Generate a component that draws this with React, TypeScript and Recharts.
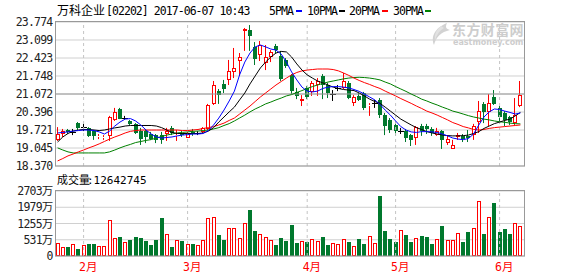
import { Bar, CartesianGrid, ComposedChart, Line, ReferenceLine, XAxis, YAxis } from 'recharts';

// trading days, 2017-01-23 .. 2017-06-07
const dates = [
  '01-23', '01-24', '01-25', '01-26', '01-27',
  '02-01', '02-02', '02-03', '02-06', '02-07', '02-08', '02-09', '02-10', '02-13', '02-14',
  '02-15', '02-16', '02-17', '02-20', '02-21', '02-22', '02-23', '02-24', '02-27', '02-28',
  '03-01', '03-02', '03-03', '03-06', '03-07', '03-08', '03-09', '03-10', '03-13', '03-14', '03-15', '03-16',
  '03-17', '03-20', '03-21', '03-22', '03-23', '03-24', '03-27', '03-28', '03-29', '03-30', '03-31',
  '04-03', '04-05', '04-06', '04-07', '04-10', '04-11', '04-12', '04-13', '04-18', '04-19', '04-20',
  '04-21', '04-24', '04-25', '04-26', '04-27', '04-28',
  '05-02', '05-04', '05-05', '05-08', '05-09', '05-10', '05-11', '05-12', '05-15', '05-16',
  '05-17', '05-18', '05-19', '05-22', '05-23', '05-24', '05-25', '05-26', '05-29', '05-31',
  '06-01', '06-02', '06-05', '06-06', '06-07',
];

const opens = [
  19.33, 19.57, 19.72, 19.65, 19.98, 19.83, 19.80, 19.68, 19.46, 19.42,
  19.50, 20.10, 20.51, 20.17, 20.06, 19.95, 19.68, 19.68, 19.57, 19.53,
  19.53, 19.57, 19.80, 19.50, 19.61, 19.42, 19.65, 19.61, 19.65, 19.76,
  20.70, 21.18, 21.45, 21.60, 21.90, 22.31, 23.44, 23.47, 22.84, 22.54,
  22.24, 22.46, 22.87, 22.50, 22.35, 21.79, 21.15, 20.81, 21.30, 21.15,
  21.41, 21.75, 21.41, 21.07, 21.30, 21.30, 21.49, 20.73, 21.00, 21.11,
  20.62, 20.73, 20.85, 20.28, 20.10, 19.91, 19.68, 19.68, 19.53, 19.42,
  19.87, 19.87, 19.76, 19.53, 19.68, 19.23, 19.01, 19.46, 19.50, 19.50,
  19.53, 20.02, 20.70, 20.40, 20.96, 20.55, 20.36, 20.21, 19.98, 20.62,
];
const highs = [
  19.83, 19.76, 19.76, 19.76, 20.02, 19.95, 19.83, 19.72, 19.57, 19.53,
  20.25, 20.55, 20.55, 20.25, 20.10, 19.98, 19.80, 19.76, 19.65, 19.57,
  19.65, 19.80, 19.87, 19.72, 19.68, 19.65, 19.76, 19.68, 19.83, 20.70,
  21.56, 21.26, 21.60, 22.35, 22.80, 22.61, 23.55, 23.66, 23.02, 23.06,
  22.91, 22.72, 22.95, 22.69, 22.42, 21.82, 21.30, 21.03, 21.37, 21.56,
  21.67, 21.82, 21.49, 21.22, 21.41, 21.86, 21.56, 21.03, 21.11, 21.15,
  20.73, 20.85, 20.92, 20.36, 20.17, 20.06, 19.80, 19.76, 19.57, 19.87,
  19.95, 19.95, 19.83, 19.80, 19.72, 19.53, 19.35, 19.61, 19.57, 19.72,
  19.95, 20.81, 20.77, 21.07, 21.22, 20.62, 20.43, 20.25, 20.92, 21.56,
];
const lows = [
  19.31, 19.46, 19.57, 19.53, 19.72, 19.68, 19.46, 19.35, 19.38, 19.35,
  19.31, 20.06, 20.13, 20.10, 19.91, 19.57, 19.16, 19.23, 19.35, 19.23,
  19.20, 19.31, 19.53, 19.31, 19.46, 19.42, 19.50, 19.53, 19.61, 19.72,
  20.66, 20.70, 21.11, 21.41, 21.67, 21.75, 22.69, 22.69, 22.16, 22.31,
  21.97, 22.27, 22.61, 21.56, 22.05, 21.07, 20.88, 20.62, 20.88, 21.00,
  21.00, 20.88, 20.92, 20.81, 21.18, 21.26, 20.88, 20.62, 20.81, 20.47,
  20.25, 20.55, 20.17, 19.53, 19.61, 19.50, 19.57, 19.27, 19.12, 19.16,
  19.50, 19.57, 19.50, 19.50, 19.01, 19.16, 19.01, 19.35, 19.27, 19.27,
  19.35, 19.61, 19.98, 19.87, 20.66, 20.06, 19.87, 19.91, 19.91, 20.58,
];
const closes = [
  19.57, 19.68, 19.65, 19.65, 19.80, 19.83, 19.50, 19.50, 19.50, 19.46,
  20.21, 20.40, 20.13, 20.17, 19.95, 19.61, 19.38, 19.46, 19.38, 19.35,
  19.35, 19.68, 19.61, 19.53, 19.53, 19.61, 19.57, 19.61, 19.80, 20.66,
  21.41, 21.03, 21.26, 21.94, 22.05, 22.46, 23.51, 23.25, 22.39, 22.91,
  22.46, 22.65, 22.72, 21.64, 22.12, 21.18, 21.00, 20.88, 20.96, 21.49,
  21.56, 21.41, 21.11, 21.07, 21.30, 21.56, 20.92, 20.96, 20.85, 20.55,
  20.66, 20.73, 20.28, 19.87, 19.72, 19.68, 19.68, 19.42, 19.35, 19.83,
  19.68, 19.76, 19.61, 19.68, 19.35, 19.38, 19.16, 19.53, 19.38, 19.42,
  19.87, 20.43, 20.40, 20.73, 20.70, 20.21, 20.10, 20.02, 20.28, 21.03,
];

// volume, 万股
const volumes = [
  541, 374, 374, 485, 305, 443, 513, 513, 416, 416,
  1497, 735, 790, 582, 665, 790, 748, 624, 457, 665,
  1580, 901, 374, 665, 624, 485, 499, 457, 665, 1580,
  1622, 873, 665, 1164, 1164, 748, 1372, 1913, 1040, 915,
  790, 665, 457, 748, 624, 1289, 541, 624, 582, 707,
  624, 790, 457, 541, 499, 707, 582, 416, 707, 499,
  832, 541, 2495, 1040, 707, 582, 1081, 873, 582, 748,
  832, 790, 499, 707, 1247, 665, 665, 956, 582, 998,
  1164, 2287, 915, 1622, 2204, 998, 1123, 915, 1372, 1264,
];

const ma5 = [
  19.61, 19.63, 19.65, 19.68, 19.70, 19.72, 19.72, 19.70, 19.65, 19.57,
  19.68, 19.87, 20.02, 20.13, 20.15, 20.06, 19.91, 19.72, 19.57, 19.46,
  19.42, 19.44, 19.46, 19.50, 19.53, 19.55, 19.57, 19.57, 19.59, 19.70,
  19.91, 20.17, 20.47, 20.81, 21.18, 21.79, 22.27, 22.61, 22.84, 22.91,
  22.84, 22.76, 22.72, 22.57, 22.27, 21.90, 21.60, 21.33, 21.18, 21.15,
  21.18, 21.28, 21.33, 21.35, 21.35, 21.33, 21.30, 21.24, 21.17, 21.07,
  20.96, 20.85, 20.68, 20.47, 20.28, 20.06, 19.85, 19.72, 19.65, 19.63,
  19.66, 19.66, 19.65, 19.63, 19.57, 19.50, 19.42, 19.38, 19.36, 19.40,
  19.57, 19.91, 20.21, 20.40, 20.51, 20.49, 20.43, 20.38, 20.32, 20.36,
];
const ma10 = [
  19.27, 19.46, 19.59, 19.68, 19.72, 19.74, 19.74, 19.72, 19.70, 19.72,
  19.76, 19.80, 19.83, 19.87, 19.89, 19.89, 19.89, 19.89, 19.89, 19.87,
  19.81, 19.72, 19.63, 19.59, 19.59, 19.59, 19.59, 19.59, 19.61, 19.68,
  19.81, 20.02, 20.21, 20.40, 20.58, 20.85, 21.11, 21.45, 21.75, 22.05,
  22.27, 22.46, 22.61, 22.67, 22.65, 22.46, 22.20, 21.97, 21.79, 21.67,
  21.56, 21.49, 21.41, 21.33, 21.28, 21.24, 21.22, 21.20, 21.11, 21.00,
  20.88, 20.79, 20.72, 20.58, 20.43, 20.28, 20.13, 20.02, 19.91, 19.81,
  19.74, 19.66, 19.61, 19.57, 19.53, 19.51, 19.50, 19.50, 19.51, 19.53,
  19.59, 19.66, 19.78, 19.87, 19.96, 20.02, 20.08, 20.13, 20.25, 20.38,
];
const ma20 = [
  18.56, 18.65, 18.75, 18.82, 18.90, 18.97, 19.05, 19.12, 19.20, 19.29,
  19.38, 19.46, 19.53, 19.61, 19.67, 19.70, 19.72, 19.72, 19.72, 19.72,
  19.72, 19.72, 19.72, 19.72, 19.70, 19.70, 19.72, 19.74, 19.78, 19.81,
  19.85, 19.91, 19.98, 20.08, 20.17, 20.32, 20.47, 20.62, 20.79, 20.96,
  21.11, 21.26, 21.41, 21.54, 21.67, 21.79, 21.88, 21.94, 21.97, 21.99,
  22.01, 22.01, 22.01, 21.99, 21.94, 21.86, 21.77, 21.67, 21.58, 21.50,
  21.43, 21.35, 21.28, 21.18, 21.09, 21.00, 20.90, 20.81, 20.72, 20.62,
  20.53, 20.43, 20.36, 20.28, 20.19, 20.10, 20.00, 19.93, 19.85, 19.80,
  19.74, 19.72, 19.74, 19.78, 19.81, 19.83, 19.85, 19.87, 19.89, 19.91,
];
const ma30 = [
  19.05, 18.97, 18.90, 18.86, 18.86, 18.86, 18.86, 18.86, 18.86, 18.86,
  18.90, 18.97, 19.05, 19.12, 19.18, 19.25, 19.29, 19.33, 19.36, 19.42,
  19.48, 19.53, 19.57, 19.61, 19.63, 19.65, 19.67, 19.68, 19.70, 19.72,
  19.76, 19.81, 19.89, 19.96, 20.06, 20.17, 20.28, 20.40, 20.51, 20.60,
  20.70, 20.77, 20.85, 20.92, 21.00, 21.05, 21.13, 21.20, 21.28, 21.35,
  21.41, 21.47, 21.52, 21.56, 21.60, 21.64, 21.67, 21.69, 21.70, 21.69,
  21.67, 21.64, 21.60, 21.52, 21.45, 21.35, 21.26, 21.17, 21.07, 20.98,
  20.88, 20.81, 20.73, 20.66, 20.58, 20.51, 20.43, 20.38, 20.32, 20.26,
  20.21, 20.17, 20.13, 20.10, 20.06, 20.03, 20.01, 19.98, 19.96, 19.95,
];

const priceTicks = [18.37, 19.045, 19.721, 20.396, 21.072, 21.748, 22.423, 23.099, 23.774];
const volTicks = [0, 675.75, 1351.5, 2027.25, 2703];
const volTickLabels = ['0', '531万', '1255万', '1979万', '2703万'];
const monthTicks = ['02-01', '03-01', '04-03', '05-02', '06-01'];
const monthLabels = ['2月', '3月', '4月', '5月', '6月'];

const UP = '#ff0000';
const DOWN = '#00782d';
const MONO = "'DejaVu Sans Mono', 'Noto Sans CJK SC', monospace";
const CJK = "'Noto Sans CJK SC', sans-serif";

const rows = dates.map((date, i) => ({
  date,
  open: opens[i],
  high: highs[i],
  low: lows[i],
  close: closes[i],
  range: [lows[i], highs[i]],
  vol: volumes[i],
  ma5: ma5[i],
  ma10: ma10[i],
  ma20: ma20[i],
  ma30: ma30[i],
}));

function Candle(props: any) {
  const { x, y, height, payload } = props;
  if (x == null || y == null) return null;
  const { open, close, high, low } = payload;
  const top = Math.min(y, y + height);
  const bottom = Math.max(y, y + height);
  const span = high - low;
  const toY = (v: number) => (span === 0 ? top : top + ((high - v) / span) * (bottom - top));
  const left = Math.floor(x);
  const wx = left + 1.5;
  const yo = toY(open);
  const yc = toY(close);
  if (open === close) {
    const yy = Math.round(yo) + 0.5;
    return (
      <g>
        <line x1={wx} x2={wx} y1={top} y2={bottom} stroke='#000' />
        <line x1={left - 1} x2={left + 5} y1={yy} y2={yy} stroke='#000' />
      </g>
    );
  }
  const bt = Math.round(Math.min(yo, yc));
  const bb = Math.round(Math.max(yo, yc));
  if (close > open) {
    return (
      <g>
        <line x1={wx} x2={wx} y1={top} y2={bt} stroke={UP} />
        <line x1={wx} x2={wx} y1={bb} y2={bottom} stroke={UP} />
        <rect x={left + 0.5} y={bt + 0.5} width={3} height={Math.max(bb - bt - 1, 0)} fill='#fff' stroke={UP} />
      </g>
    );
  }
  return (
    <g>
      <line x1={wx} x2={wx} y1={top} y2={bottom} stroke={DOWN} />
      <rect x={left} y={bt} width={4} height={Math.max(bb - bt, 1)} fill={DOWN} />
    </g>
  );
}

function VolBar(props: any) {
  const { x, y, height, payload } = props;
  if (x == null || y == null) return null;
  const left = Math.floor(x);
  const top = Math.round(y);
  const bottom = Math.round(y + height);
  if (payload.close >= payload.open) {
    return <rect x={left + 0.5} y={top + 0.5} width={3} height={Math.max(bottom - top - 1, 0)} fill='#fff' stroke={UP} />;
  }
  return <rect x={left} y={top} width={4} height={bottom - top} fill={DOWN} />;
}

function PriceTick(props: any) {
  const { y, payload } = props;
  return (
    <text x={52.5} y={y + 4} textAnchor='end' fontFamily={MONO} fontSize={11.5} letterSpacing={-0.8} fill='#222'>
      {Number(payload.value).toFixed(3)}
    </text>
  );
}

function VolTick(props: any) {
  const { y, payload } = props;
  const label = volTickLabels[volTicks.indexOf(payload.value)];
  return (
    <text x={52.5} y={y + 4} textAnchor='end' fontFamily={MONO} fontSize={11.5} letterSpacing={-0.8} fill='#222'>
      {label}
    </text>
  );
}

function MonthTick(props: any) {
  const { x, payload } = props;
  const label = monthLabels[monthTicks.indexOf(payload.value)];
  return (
    <text x={x - 4.5} y={100.5} textAnchor='start' fontFamily={MONO} fontSize={11.5} fill={UP}>
      {label}
    </text>
  );
}

const legend = [
  { label: '5PMA', x: 269, dash: 296, color: '#0000ff' },
  { label: '10PMA', x: 307, dash: 339, color: '#000000' },
  { label: '20PMA', x: 349, dash: 382, color: '#ff0000' },
  { label: '30PMA', x: 393, dash: 425, color: '#008000' },
];

export default function App() {
  return (
    <div style={{ position: 'absolute', left: 0, top: 0, width: 578, height: 276, background: '#fff' }}>
      <div style={{ position: 'absolute', left: 0, top: 0 }}>
        <ComposedChart width={578} height={174} data={rows} margin={{ top: 22, right: 53, bottom: 8, left: 0 }} barSize={4}>
          <CartesianGrid vertical={false} stroke='#d0d0d0' />
          <XAxis dataKey='date' hide padding={{ left: 0, right: 2 }} />
          <YAxis
            width={55}
            domain={[18.37, 23.774]}
            ticks={priceTicks}
            interval={0}
            allowDataOverflow
            axisLine={false}
            tickLine={false}
            tick={(p: any) => <PriceTick {...p} />}
          />
          <ReferenceLine y={21.072} stroke='#9a9a9a' />
          {monthTicks.map((m) => (
            <ReferenceLine key={m} x={m} stroke='#c4c4c4' strokeDasharray='3 3' />
          ))}
          <Bar dataKey='range' shape={(p: any) => <Candle {...p} />} isAnimationActive={false} />
          <Line type='linear' dataKey='ma30' stroke='#008000' strokeWidth={1} dot={false} isAnimationActive={false} />
          <Line type='linear' dataKey='ma20' stroke='#ff0000' strokeWidth={1} dot={false} isAnimationActive={false} />
          <Line type='linear' dataKey='ma10' stroke='#000000' strokeWidth={1} dot={false} isAnimationActive={false} />
          <Line type='linear' dataKey='ma5' stroke='#0000ff' strokeWidth={1} dot={false} isAnimationActive={false} />
        </ComposedChart>
      </div>
      <div style={{ position: 'absolute', left: 0, top: 170 }}>
        <ComposedChart width={578} height={106} data={rows} margin={{ top: 21, right: 53, bottom: 0, left: 0 }} barSize={4}>
          <CartesianGrid vertical={false} stroke='#d0d0d0' />
          <XAxis
            dataKey='date'
            ticks={monthTicks}
            interval={0}
            height={20}
            axisLine={false}
            tickLine={false}
            padding={{ left: 0, right: 2 }}
            tick={(p: any) => <MonthTick {...p} />}
          />
          <YAxis
            width={55}
            domain={[0, 2703]}
            ticks={volTicks}
            interval={0}
            axisLine={false}
            tickLine={false}
            tick={(p: any) => <VolTick {...p} />}
          />
          {monthTicks.map((m) => (
            <ReferenceLine key={m} x={m} stroke='#c4c4c4' strokeDasharray='3 3' />
          ))}
          <Bar dataKey='vol' shape={(p: any) => <VolBar {...p} />} isAnimationActive={false} />
        </ComposedChart>
      </div>
      <svg width={578} height={276} style={{ position: 'absolute', left: 0, top: 0, pointerEvents: 'none' }}>
        {/* watermark */}
        <path d='M447 23 C437 27 430 35 434 45 C436 37 441 32 450 30 C446 29 445 27 447 23 Z' fill='#d2d2d2' />
        <path d='M441 26 C436 30 434 35 435 40 C437 34 440 30 444 28 Z' fill='#e2e2e2' />
        <text x={452} y={35} fontFamily={CJK} fontWeight='bold' fontSize={14} letterSpacing={0.4} fill='#cdcdcd'>
          东方财富网
        </text>
        <text x={453} y={45} fontFamily="'DejaVu Sans', sans-serif" fontWeight='bold' fontSize={8} fill='#cdcdcd'>
          eastmoney.com
        </text>

        {/* panel borders */}
        <rect x={55.5} y={21.5} width={469} height={144.5} fill='none' stroke='#999' />
        <rect x={55.5} y={190.5} width={469} height={65.5} fill='none' stroke='#999' />

        {/* title row */}
        <text x={57} y={14.5} fontFamily={CJK} fontSize={12} fill='#000'>
          万科企业
        </text>
        <text x={106} y={14.5} fontFamily={MONO} fontSize={11.5} letterSpacing={-0.95} fill='#000'>
          [02202] 2017-06-07 10:43
        </text>
        {legend.map((l) => (
          <g key={l.label}>
            <text x={l.x} y={14.5} fontFamily={MONO} fontSize={11.5} letterSpacing={-0.95} fill='#000'>
              {l.label}
            </text>
            <rect x={l.dash} y={10} width={6} height={2} fill={l.color} />
          </g>
        ))}

        {/* volume caption */}
        <text x={57} y={184} fontFamily={CJK} fontSize={11} fill='#000'>
          成交量
        </text>
        <text x={87} y={184} fontFamily={MONO} fontSize={11} fill='#000'>
          :12642745
        </text>
      </svg>
    </div>
  );
}
